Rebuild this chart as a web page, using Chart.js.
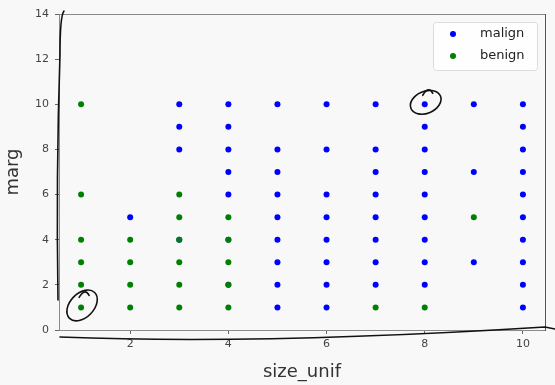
<!DOCTYPE html>
<html>
<head>
<meta charset="utf-8">
<script src="https://cdn.jsdelivr.net/npm/chart.js@4"></script>
<style>
  html, body { margin: 0; padding: 0; background: #f8f8f8; }
  #wrap { width: 555px; height: 385px; }
</style>
</head>
<body>
<div id="wrap"><canvas id="chart" width="555" height="385"></canvas></div>
<script>
// data (size_unif vs marg)
const SERIES_LABELS = ["malign", "benign"];
const SERIES_COLORS = ["#0000ff", "#008000"];

const MALIGN_X = [2, 3, 3, 3, 3, 4, 4, 4, 4, 4, 4, 4,
  5, 5, 5, 5, 5, 5, 5, 5, 5,
  6, 6, 6, 6, 6, 6, 6, 6,
  7, 7, 7, 7, 7, 7, 7, 7,
  8, 8, 8, 8, 8, 8, 8, 8, 8,
  9, 9, 9,
  10, 10, 10, 10, 10, 10, 10, 10, 10, 10];
const MALIGN_Y = [5, 10, 9, 8, 4, 10, 9, 8, 7, 6, 4, 2,
  10, 8, 7, 6, 5, 4, 3, 2, 1,
  10, 8, 6, 5, 4, 3, 2, 1,
  10, 8, 7, 6, 5, 4, 3, 2,
  10, 9, 8, 7, 6, 5, 4, 3, 2,
  10, 7, 3,
  10, 9, 8, 7, 6, 5, 4, 3, 2, 1];

const BENIGN_X = [1, 1, 1, 1, 1, 1, 2, 2, 2, 2, 3, 3, 3, 3, 3, 3, 4, 4, 4, 4, 4, 7, 8, 9];
const BENIGN_Y = [10, 6, 4, 3, 2, 1, 4, 3, 2, 1, 6, 5, 4, 3, 2, 1, 5, 4, 3, 2, 1, 1, 1, 5];

const X_TICKS = [2, 4, 6, 8, 10];
const Y_TICKS = [0, 2, 4, 6, 8, 10, 12, 14];
const X_RANGE = [0.55, 10.45];
const Y_RANGE = [0, 14];

// hand-drawn circles in the reference
const CIRCLED_X = [1, 8];
const CIRCLED_Y = [1, 10];

const FONT = "'DejaVu Sans', sans-serif";
const TICK_COLOR = "#444";

const toPoints = (xs, ys) => xs.map((x, i) => ({ x, y: ys[i] }));

const framePlugin = {
  id: "frame",
  afterDraw(chart) {
    const { ctx, chartArea: a, scales } = chart;
    ctx.save();
    // spines
    ctx.strokeStyle = "#8a8a8a";
    ctx.lineWidth = 1;
    ctx.strokeRect(a.left + 0.5, a.top + 0.5, a.right - a.left, a.bottom - a.top);
    ctx.strokeStyle = "#555";
    ctx.beginPath();
    ctx.moveTo(a.right + 0.5, a.top);
    ctx.lineTo(a.right + 0.5, a.bottom + 1);
    ctx.stroke();

    // pen strokes
    ctx.strokeStyle = "#111";
    ctx.lineWidth = 1.6;
    ctx.lineCap = "round";
    ctx.beginPath();
    ctx.moveTo(a.left + 5, a.top - 3);
    ctx.quadraticCurveTo(a.left + 1, a.top + 2, a.left + 1, a.top + 40);
    ctx.quadraticCurveTo(a.left - 3, a.top + 160, a.left - 1, a.bottom - 30);
    ctx.stroke();

    ctx.beginPath();
    ctx.moveTo(a.left + 1, a.bottom + 7);
    ctx.quadraticCurveTo(a.left + 200, a.bottom + 15, a.right, a.bottom - 3);
    ctx.lineTo(a.right + 10, a.bottom - 1);
    ctx.stroke();

    const radii = [[18, 12, -0.8], [16, 11, -0.4]];
    CIRCLED_X.forEach((v, i) => {
      const px = scales.x.getPixelForValue(v) + 1;
      const py = scales.y.getPixelForValue(CIRCLED_Y[i]) - 2;
      const [rx, ry, rot] = radii[i];
      ctx.beginPath();
      ctx.ellipse(px, py, rx, ry, rot, 0, Math.PI * 2);
      ctx.stroke();
      // little hook on top
      ctx.beginPath();
      ctx.moveTo(px - 3, py - ry + 4);
      ctx.quadraticCurveTo(px + 3, py - ry - 6, px + 7, py - ry + 2);
      ctx.stroke();
    });
    ctx.restore();
  },
};

const legendPlugin = {
  id: "mplLegend",
  afterDraw(chart) {
    const { ctx, chartArea: a } = chart;
    const w = 104, h = 48;
    const x = a.right - 8 - w, y = a.top + 8;
    ctx.save();
    ctx.fillStyle = "rgba(255,255,255,0.85)";
    ctx.strokeStyle = "#dcdcdc";
    ctx.lineWidth = 1;
    ctx.beginPath();
    ctx.roundRect(x + 0.5, y + 0.5, w, h, 3);
    ctx.fill();
    ctx.stroke();
    ctx.font = "13px " + FONT;
    ctx.textBaseline = "middle";
    chart.data.datasets.forEach((ds, i) => {
      const cy = y + 12 + i * 22;
      ctx.fillStyle = ds.backgroundColor;
      ctx.beginPath();
      ctx.arc(x + 20, cy, 3, 0, Math.PI * 2);
      ctx.fill();
      ctx.fillStyle = "#222";
      ctx.fillText(ds.label, x + 47, cy);
    });
    ctx.restore();
  },
};

new Chart(document.getElementById("chart"), {
  type: "scatter",
  plugins: [framePlugin, legendPlugin],
  data: {
    datasets: [
      {
        label: SERIES_LABELS[0],
        data: toPoints(MALIGN_X, MALIGN_Y),
        backgroundColor: SERIES_COLORS[0],
        borderWidth: 0,
        pointRadius: 3,
        order: 1,
      },
      {
        label: SERIES_LABELS[1],
        data: toPoints(BENIGN_X, BENIGN_Y),
        backgroundColor: SERIES_COLORS[1],
        borderWidth: 0,
        pointRadius: 3,
        order: 0,
      },
    ],
  },
  options: {
    responsive: false,
    animation: false,
    layout: { padding: { top: 14, right: 10, left: 0, bottom: 0 } },
    plugins: { legend: { display: false }, tooltip: { enabled: false } },
    scales: {
      x: {
        type: "linear",
        min: X_RANGE[0],
        max: X_RANGE[1],
        afterBuildTicks: s => { s.ticks = X_TICKS.map(value => ({ value })); },
        afterFit: s => { s.height = 55; },
        ticks: { color: TICK_COLOR, font: { family: FONT, size: 11 }, padding: 4, maxRotation: 0 },
        grid: { drawOnChartArea: false, tickLength: 4, tickColor: "#666" },
        border: { display: false },
        title: {
          display: true,
          text: "size_unif",
          color: "#333",
          font: { family: FONT, size: 18 },
          padding: { top: 0, bottom: 2 },
        },
      },
      y: {
        min: Y_RANGE[0],
        max: Y_RANGE[1],
        afterBuildTicks: s => { s.ticks = Y_TICKS.map(value => ({ value })); },
        afterFit: s => { s.width = 59; },
        ticks: { color: TICK_COLOR, font: { family: FONT, size: 11 }, padding: 6 },
        grid: { drawOnChartArea: false, tickLength: 4, tickColor: "#666" },
        border: { display: false },
        title: {
          display: true,
          text: "marg",
          color: "#333",
          font: { family: FONT, size: 18 },
          padding: { top: 3, bottom: 0 },
        },
      },
    },
  },
});
</script>
</body>
</html>
